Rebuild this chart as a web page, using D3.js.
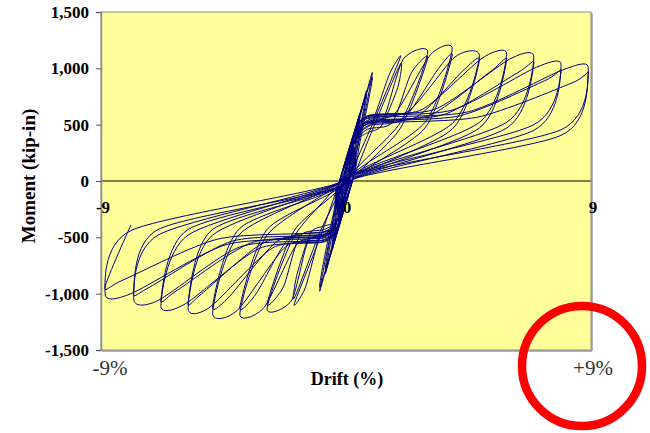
<!DOCTYPE html>
<html>
<head>
<meta charset="utf-8">
<script src="https://cdn.jsdelivr.net/npm/d3@7"></script>
<style>
body { margin: 0; background: #fff; }
svg { display: block; }
text { font-family: "Liberation Serif", "Times New Roman", serif; }
</style>
</head>
<body>
<div id="chart"></div>
<script>
// drift amplitude (%) of each loading step
var ampPos = [0.25, 0.5, 0.75, 0.96, 2.0, 3.0, 3.9, 4.9, 5.9, 6.9, 7.9, 8.9];
var ampNeg = [-0.25, -0.5, -0.75, -0.96, -1.9, -2.9, -3.9, -4.9, -5.8, -6.8, -7.8, -8.85];

// peak moments (kip-in), first and second cycle of each step
var peakPos1 = [340, 600, 800, 960, 1100, 1145, 1170, 1110, 1125, 1100, 1030, 1000];
var peakPos2 = [320, 570, 770, 920, 1040, 1090, 1110, 1070, 1070, 1040, 970, 950];
var peakNeg1 = [-340, -610, -820, -975, -1090, -1135, -1180, -1170, -1125, -1105, -1045, -1000];
var peakNeg2 = [-320, -580, -790, -940, -1040, -1090, -1120, -1110, -1075, -1050, -990, -940];

// end of the steep unloading branch
var unloadPosDrift = [0.12, 0.3, 0.4, 0.5, 1.0, 2.0, 2.9, 3.9, 4.9, 5.9, 6.9, 7.9];
var unloadPosMoment = [140, 260, 320, 380, 520, 520, 520, 510, 520, 520, 500, 455];
var unloadNegDrift = [-0.12, -0.3, -0.4, -0.5, -0.95, -1.9, -2.9, -3.9, -4.9, -5.8, -6.9, -7.9];
var unloadNegMoment = [-140, -260, -320, -380, -500, -490, -480, -470, -480, -480, -480, -440];

// pinched plateau: where reloading leaves it, and its level
var kneePos = [null, null, null, null, 1.0, 1.4, 1.8, 2.3, 2.8, 3.3, 3.9, 4.5];
var kneeNeg = [null, null, null, null, -1.0, -1.4, -1.8, -2.2, -2.7, -3.2, -3.9, -4.4];
var platPos = [null, null, null, null, 540, 570, 600, 620, 635, 640, 630, 615];
var platNeg = [null, null, null, null, -510, -540, -560, -580, -595, -600, -585, -565];

// a point on the rising part of the reloading curve
var midPosDrift = [null, null, null, null, 1.6, 2.1, 3.1, 4.0, 5.0, 6.0, 7.0, 8.0];
var midPosMoment = [null, null, null, null, 950, 1080, 1120, 1100, 1090, 1080, 1010, 990];
var midNegDrift = [null, null, null, null, -1.5, -2.0, -3.0, -4.0, -5.0, -5.9, -6.9, -7.9];
var midNegMoment = [null, null, null, null, -950, -1060, -1120, -1150, -1120, -1090, -1060, -1000];

var yTicks = [-1500, -1000, -500, 0, 500, 1000, 1500];
var xTicks = [-9, 0, 9];

var width = 650, height = 433;
var margin = { top: 12, right: 59, bottom: 83, left: 101 };

var svg = d3.select("#chart")
    .append("svg")
    .attr("width", width)
    .attr("height", height);

var x = d3.scaleLinear().domain([-9, 9]).range([margin.left, width - margin.right]);
var y = d3.scaleLinear().domain([-1500, 1500]).range([height - margin.bottom, margin.top]);

// plot background
svg.append("rect")
    .attr("x", x(-9))
    .attr("y", y(1500))
    .attr("width", x(9) - x(-9))
    .attr("height", y(-1500) - y(1500))
    .attr("fill", "#ffff99");

// zero line
svg.append("line")
    .attr("x1", x(-9)).attr("x2", x(9))
    .attr("y1", y(0)).attr("y2", y(0))
    .attr("stroke", "#000")
    .attr("stroke-width", 1);

// build the load history as one continuous path
var pts = [[0, 0]];
ampPos.forEach(function (a, i) {
    for (var r = 0; r < 2; r++) {
        var pp = r === 0 ? peakPos1[i] : peakPos2[i];
        var pn = r === 0 ? peakNeg1[i] : peakNeg2[i];
        // towards positive drift
        pts.push([-0.15 - r * 0.1, -40 + r * 25]);
        if (kneePos[i] !== null) {
            pts.push([0.25 + r * 0.05, 380 - r * 40]);
            pts.push([0.8, platPos[i] - 60 - r * 50]);
            pts.push([kneePos[i] + r * 0.3, platPos[i] - r * 50]);
            pts.push([midPosDrift[i] + r * 0.3, midPosMoment[i] - r * 120]);
        }
        pts.push([a, pp]);
        pts.push([unloadPosDrift[i], unloadPosMoment[i] - r * 50]);
        // towards negative drift
        pts.push([0.15 + r * 0.1, 40 - r * 25]);
        if (kneeNeg[i] !== null) {
            pts.push([-0.25 - r * 0.05, -380 + r * 40]);
            pts.push([-0.8, platNeg[i] + 60 + r * 50]);
            pts.push([kneeNeg[i] - r * 0.3, platNeg[i] + r * 50]);
            pts.push([midNegDrift[i] - r * 0.3, midNegMoment[i] + r * 120]);
        }
        pts.push([ampNeg[i], pn]);
        pts.push([unloadNegDrift[i], unloadNegMoment[i] + r * 50]);
    }
});

var line = d3.line()
    .x(function (d) { return x(d[0]); })
    .y(function (d) { return y(d[1]); })
    .curve(d3.curveCardinal.tension(0.25));

svg.append("path")
    .datum(pts)
    .attr("d", line)
    .attr("fill", "none")
    .attr("stroke", "#000080")
    .attr("stroke-width", 1);

// frame with a light shadow on the right and bottom
svg.append("rect")
    .attr("x", x(-9))
    .attr("y", y(1500))
    .attr("width", x(9) - x(-9))
    .attr("height", y(-1500) - y(1500))
    .attr("fill", "none")
    .attr("stroke", "#8c8c8c")
    .attr("stroke-width", 1);
svg.append("path")
    .attr("d", "M" + (x(9) + 1) + "," + (y(1500) + 1) + "V" + (y(-1500) + 1) + "H" + (x(-9) + 1))
    .attr("fill", "none")
    .attr("stroke", "#6e6e6e")
    .attr("stroke-width", 1);

// y axis
var yAxis = d3.axisLeft(y)
    .tickValues(yTicks)
    .tickSize(5)
    .tickPadding(7)
    .tickFormat(function (d) { return d3.format(",")(d).replace("\u2212", "-"); });

var gy = svg.append("g")
    .attr("transform", "translate(" + x(-9) + ",0)")
    .call(yAxis);
gy.select(".domain").attr("stroke", "#8c8c8c").attr("stroke-width", 1.5);
gy.selectAll(".tick line").attr("stroke", "#555");
gy.selectAll(".tick text")
    .attr("fill", "#000")
    .style("font-family", "'Liberation Serif', serif")
    .style("font-weight", "bold")
    .style("font-size", "17px");

// drift tick labels under the zero line
svg.selectAll(".xlab")
    .data(xTicks)
    .enter()
    .append("text")
    .attr("class", "xlab")
    .attr("x", function (d) { return x(d) + (d === 0 ? 1 : 2); })
    .attr("y", y(0) + 32)
    .attr("text-anchor", "middle")
    .style("font-weight", "bold")
    .style("font-size", "17px")
    .text(function (d) { return d; });

// axis titles
svg.append("text")
    .attr("transform", "translate(35," + (y(0) - 5) + ") rotate(-90)")
    .attr("text-anchor", "middle")
    .style("font-weight", "bold")
    .style("font-size", "19px")
    .text("Moment (kip-in)");

svg.append("text")
    .attr("x", x(0) + 1)
    .attr("y", 385)
    .attr("text-anchor", "middle")
    .style("font-weight", "bold")
    .style("font-size", "18px")
    .text("Drift (%)");

// drift limits written below the frame
svg.append("text")
    .attr("x", x(-9) + 9)
    .attr("y", 375)
    .attr("text-anchor", "middle")
    .attr("fill", "#333")
    .style("font-size", "21px")
    .text("-9%");

svg.append("text")
    .attr("x", 593)
    .attr("y", 375)
    .attr("text-anchor", "middle")
    .attr("fill", "#333")
    .style("font-size", "21px")
    .text("+9%");

// red marking circle
svg.append("circle")
    .attr("cx", 582)
    .attr("cy", 366)
    .attr("r", 60)
    .attr("fill", "none")
    .attr("stroke", "#ff0000")
    .attr("stroke-width", 8.5);
</script>
</body>
</html>
